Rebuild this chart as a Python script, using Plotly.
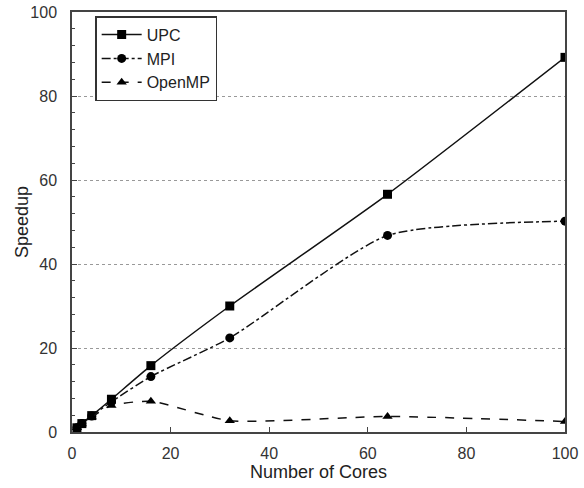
import plotly.graph_objects as go

cores = [1, 2, 4, 8, 16, 32, 64, 100]
upc = [1.0, 2.0, 3.9, 7.8, 15.8, 30.0, 56.6, 89.2]
mpi = [1.0, 2.0, 3.8, 7.2, 13.2, 22.4, 46.8, 50.2]
openmp = [1.0, 1.9, 3.6, 6.3, 7.3, 2.7, 3.7, 2.5]

series = [
    ("UPC", upc, "solid", "square", 9),
    ("MPI", mpi, "dashdot", "circle", 9),
    ("OpenMP", openmp, "dash", "triangle-up", 9),
]

fig = go.Figure()
for name, vals, dash, sym, sz in series:
    fig.add_trace(go.Scatter(
        x=cores, y=vals, name=name, mode="lines+markers",
        line=dict(color="#111", width=1.5, dash=dash, shape="spline", smoothing=0.6),
        marker=dict(symbol=sym, size=sz, color="black"),
    ))

fig.add_annotation(text="Speedup", textangle=-90, xref="paper", yref="paper",
                   x=0, y=0.5, xanchor="center", yanchor="middle", xshift=-50,
                   showarrow=False, font=dict(size=18, color="#222"))

fig.update_layout(
    width=584, height=488,
    margin=dict(l=72, r=19, t=12, b=56),
    paper_bgcolor="white", plot_bgcolor="white",
    font=dict(family="Liberation Sans, Arial, sans-serif", color="#333", size=16),
    showlegend=True,
    legend=dict(x=0.047, y=0.99, xanchor="left", yanchor="top",
                bordercolor="#333", borderwidth=1.5, bgcolor="white",
                font=dict(size=16, color="#222"), tracegroupgap=0,
                itemwidth=40),
    xaxis=dict(range=[0, 100], tickvals=[0, 20, 40, 60, 80, 100],
               showline=True, linecolor="#444", linewidth=1.5, mirror=True,
               ticks="inside", ticklen=5, tickcolor="#444",
               showgrid=False, zeroline=False, automargin=False,
               ticklabelstandoff=6, ticklabeloverflow="allow",
               title=dict(text="Number of Cores", font=dict(size=18, color="#222"), standoff=0)),
    yaxis=dict(range=[0, 100], tickvals=[0, 20, 40, 60, 80, 100],
               showline=True, linecolor="#444", linewidth=1.5, mirror=True,
               ticks="inside", ticklen=5, tickcolor="#444",
               minor=dict(tickvals=[v for v in range(4, 100, 4) if v % 20 != 0], ticks="inside", ticklen=3, tickcolor="#444"),
               showgrid=True, gridcolor="#999", griddash="dot", gridwidth=1,
               zeroline=False, automargin=False,
               ticklabelstandoff=10, ticklabeloverflow="allow"),
)

fig.write_html("out.html", config={"displayModeBar": False},
               post_script="document.body.style.margin='0';document.body.style.overflow='hidden';")
